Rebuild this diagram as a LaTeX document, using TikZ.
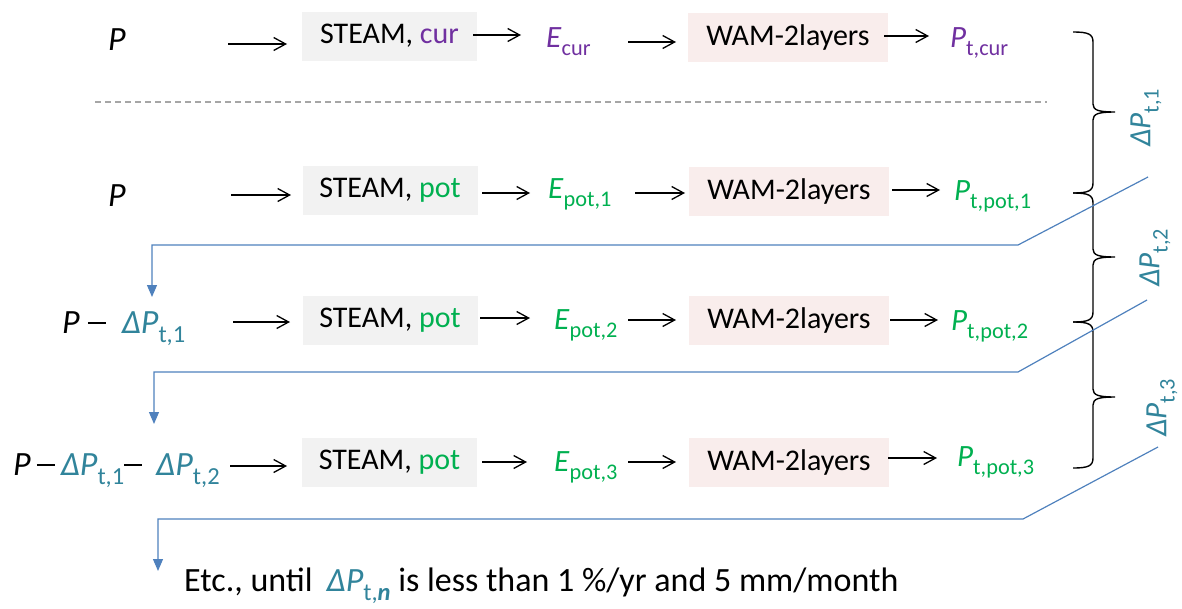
\documentclass[tikz,border=0pt]{standalone}
\usepackage{fontspec}
\setmainfont{Carlito}
\usetikzlibrary{arrows.meta}
\definecolor{cpur}{HTML}{7030A0}
\definecolor{cgrn}{HTML}{00B050}
\definecolor{cteal}{HTML}{31849B}
\definecolor{cblue}{HTML}{4F81BD}
\definecolor{boxgray}{HTML}{F2F2F2}
\definecolor{boxpink}{HTML}{F9EDEC}
\definecolor{dashgray}{HTML}{A6A6A6}
\newcommand\sbs[1]{\raisebox{-0.27em}{\scalebox{0.72}{#1}}}
\newcommand\dP[1]{{\color{cteal}\textit{ΔP}\sbs{t,#1}}}
\newcommand\mns{\rule[0.27em]{18pt}{1.7pt}}
\begin{document}
\begin{tikzpicture}[x=1pt,y=-1pt,
  every node/.style={font=\fontsize{30}{34}\selectfont, inner sep=0pt},
  big/.style={font=\fontsize{34}{38}\selectfont},
  mid/.style={font=\fontsize{31}{36}\selectfont},
  steambox/.style={fill=boxgray, minimum width=175pt, minimum height=49pt},
  wambox/.style={fill=boxpink, minimum width=200pt, minimum height=49pt},
  lbl/.style={anchor=base west},
  arr/.style={-{Straight Barb[length=12pt,width=13pt]}, line width=1.3pt},
  fb/.style={cblue, line width=1.2pt, -{Triangle[length=12pt,width=10pt]}},
  brc/.style={line width=1.4pt},
  rl/.style={rotate=90, mid}]
\useasboundingbox (0,0) rectangle (1182,608);

% ---- row 1 (current)
\node[lbl,big] (p1) at (108,50) {\textit{P}};
\node[steambox] (s1) at (389.5,36) {STEAM, {\color{cpur}cur}};
\node[lbl,mid,cpur] (e1) at (546,47) {\textit{E}\sbs{cur}};
\node[wambox] (w1) at (788,37) {WAM-2layers};
\node[lbl,mid,cpur] (t1) at (950,47) {\textit{P}\sbs{t,cur}};
\draw[arr] (228,44) coordinate (a11) -- (287,44) coordinate (a12);
\draw[arr] (473,35) coordinate (a13) -- (521,35) coordinate (a14);
\draw[arr] (628,42) coordinate (a15) -- (676,42) coordinate (a16);
\draw[arr] (884,36) coordinate (a17) -- (929,36) coordinate (a18);

% dashed separator
\draw[dashgray, line width=1.2pt, dash pattern=on 6pt off 4pt] (95,102) coordinate (d1) -- (1047,102) coordinate (d2);

% ---- row 2
\node[lbl,big] (p2) at (108,206) {\textit{P}};
\node[steambox] (s2) at (390,190) {STEAM, {\color{cgrn}pot}};
\node[lbl,mid,cgrn] (e2) at (548,198) {\textit{E}\sbs{pot,1}};
\node[wambox] (w2) at (789,191) {WAM-2layers};
\node[lbl,mid,cgrn] (t2) at (954,200) {\textit{P}\sbs{t,pot,1}};
\draw[arr] (231,195) coordinate (a21) -- (291,195) coordinate (a22);
\draw[arr] (482,193) coordinate (a23) -- (530,193) coordinate (a24);
\draw[arr] (635,193) coordinate (a25) -- (685,193) coordinate (a26);
\draw[arr] (892,190) coordinate (a27) -- (940,190) coordinate (a28);

% ---- row 3
\node[lbl,big] (p3) at (62,333) {\textit{P}\hspace{8pt}\mns\hspace{16pt}\dP{1}};
\node[steambox] (s3) at (390,320) {STEAM, {\color{cgrn}pot}};
\node[lbl,mid,cgrn] (e3) at (554,329) {\textit{E}\sbs{pot,2}};
\node[wambox] (w3) at (789,320) {WAM-2layers};
\node[lbl,mid,cgrn] (t3) at (951,330) {\textit{P}\sbs{t,pot,2}};
\draw[arr] (233,322) coordinate (a31) -- (290,322) coordinate (a32);
\draw[arr] (480,318) coordinate (a33) -- (530,318) coordinate (a34);
\draw[arr] (628,320) coordinate (a35) -- (676,320) coordinate (a36);
\draw[arr] (890,320) coordinate (a37) -- (938,320) coordinate (a38);

% ---- row 4
\node[lbl,big] (p4) at (13,475) {\textit{P}\hspace{6pt}\mns\hspace{6pt}\dP{1}\mns\hspace{14pt}\dP{2}};
\node[steambox] (s4) at (389.5,462) {STEAM, {\color{cgrn}pot}};
\node[lbl,mid,cgrn] (e4) at (554,471) {\textit{E}\sbs{pot,3}};
\node[wambox] (w4) at (789,462) {WAM-2layers};
\node[lbl,mid,cgrn] (t4) at (957,466) {\textit{P}\sbs{t,pot,3}};
\draw[arr] (230,466) coordinate (a41) -- (287,466) coordinate (a42);
\draw[arr] (482,462) coordinate (a43) -- (527,462) coordinate (a44);
\draw[arr] (628,462) coordinate (a45) -- (676,462) coordinate (a46);
\draw[arr] (888,458) coordinate (a47) -- (937,458) coordinate (a48);

% ---- braces
\draw[brc] (1073,32) .. controls (1088,32) and (1093,34) .. (1093,42) -- (1093,104)
  .. controls (1093,110) and (1098,112) .. (1115,112)
  .. controls (1098,112) and (1093,114) .. (1093,120) -- (1093,183)
  .. controls (1093,191) and (1088,193) .. (1073,193);
\draw[brc] (1073,193) .. controls (1088,193) and (1093,195) .. (1093,203) -- (1093,249)
  .. controls (1093,255) and (1098,257) .. (1115,257)
  .. controls (1098,257) and (1093,259) .. (1093,265) -- (1093,312)
  .. controls (1093,320) and (1088,322) .. (1073,322);
\draw[brc] (1073,322) .. controls (1088,322) and (1093,324) .. (1093,332) -- (1093,389)
  .. controls (1093,395) and (1098,397) .. (1115,397)
  .. controls (1098,397) and (1093,399) .. (1093,405) -- (1093,458)
  .. controls (1093,466) and (1088,468) .. (1073,468);

% brace labels
\node[rl] (l1) at (1146,118) {\dP{1}};
\node[rl] (l2) at (1155,258) {\dP{2}};
\node[rl] (l3) at (1162,408) {\dP{3}};

% ---- feedback lines
\coordinate (f1s) at (1148,177);
\coordinate (f1k) at (1018,245);
\coordinate (f1c) at (152,245);
\coordinate (f1e) at (152,297);
\draw[fb] (f1s) -- (f1k) -- (f1c) -- (f1e);
\coordinate (f2s) at (1147,300);
\coordinate (f2k) at (1018,372);
\coordinate (f2c) at (154,372);
\coordinate (f2e) at (154,424);
\draw[fb] (f2s) -- (f2k) -- (f2c) -- (f2e);
\coordinate (f3s) at (1158,447);
\coordinate (f3k) at (1023,519);
\coordinate (f3c) at (158,519);
\coordinate (f3e) at (158,571);
\draw[fb] (f3s) -- (f3k) -- (f3c) -- (f3e);

% ---- bottom text
\node[lbl,big] (etc) at (184,591) {Etc., until\hspace{14pt}\dP{\textbf{\textit{n}}} is less than 1 \%/yr and 5 mm/month};
\end{tikzpicture}
\end{document}
